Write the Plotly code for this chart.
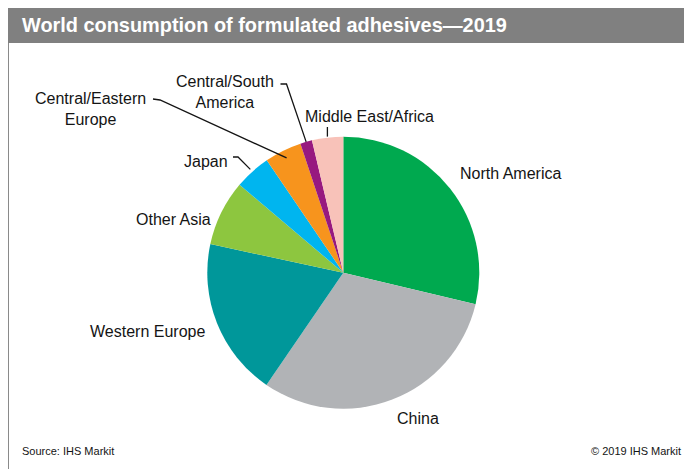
import math
import plotly.graph_objects as go

# ---- data ----
regions = ["North America", "China", "Western Europe", "Other Asia", "Japan",
           "Central/Eastern Europe", "Central/South America", "Middle East/Africa"]
shares = [28.7, 30.8, 18.8, 7.8, 4.3, 4.4, 1.4, 3.7]
colors = ["#00A94F", "#B1B3B6", "#00979A", "#8DC63F", "#00B5EF",
          "#F7941D", "#97197F", "#F8C2B9"]

title_text = "World consumption of formulated adhesives\u20142019"
source_text = "Source: IHS Markit"
copyright_text = "\u00a9 2019 IHS Markit"

# ---- geometry (pixels) ----
W, H = 684, 469
CX, CY, R = 343.3, 272.7, 136.0


def px(x):
    return x / W


def py(y):
    return 1 - y / H


fig = go.Figure()
fig.add_trace(go.Pie(
    labels=regions, values=shares, sort=False, direction="clockwise", rotation=0,
    marker=dict(colors=colors, line=dict(width=0)),
    textinfo="none", hoverinfo="label+percent",
    domain=dict(x=[px(CX - R), px(CX + R)], y=[py(CY + R), py(CY - R)]),
))

# mid angle of each slice (degrees clockwise from 12 o'clock), from the data
total = sum(shares)
mids = {}
acc = 0.0
for name, v in zip(regions, shares):
    a0 = acc / total * 360
    acc += v
    a1 = acc / total * 360
    mids[name] = (a0 + a1) / 2


def rim(name, r):
    a = math.radians(mids[name])
    return CX + r * math.sin(a), CY - r * math.cos(a)


font = "Liberation Sans, Arial, sans-serif"
annotations = []
shapes = []


def label(text, x, y, xanchor):
    annotations.append(dict(text=text, x=px(x), y=py(y), xref="paper", yref="paper",
                            xanchor=xanchor, yanchor="middle", showarrow=False,
                            align="center", font=dict(family=font, size=16, color="#141414")))


def leader(points):
    path = "M " + " L ".join(f"{px(x)},{py(y)}" for x, y in points)
    shapes.append(dict(type="path", path=path, xref="paper", yref="paper",
                       line=dict(color="#141414", width=1.3)))


label("North America", 458, 173, "left")
label("China", 418, 418, "center")
label("Western Europe", 207, 331, "right")
label("Other Asia", 213, 219, "right")
label("Japan", 229.5, 161, "right")
label("Central/Eastern<br>Europe", 90.5, 109, "center")
label("Central/South<br>America", 224.5, 92, "center")
label("Middle East/Africa", 369.5, 117, "center")

leader([(233, 157), (238, 157), rim("Japan", 139)])
leader([(153, 99), (160, 100), rim("Central/Eastern Europe", 128)])
leader([(280.5, 84), (286.5, 84), rim("Central/South America", 136)])
mx, my = rim("Middle East/Africa", 137)
leader([(mx, 127), (mx, my)])

# title bar and frame
shapes.append(dict(type="rect", xref="paper", yref="paper", x0=px(8), x1=px(W), y0=py(43), y1=py(8),
                   fillcolor="#808080", line=dict(width=0), layer="below"))
shapes.append(dict(type="line", xref="paper", yref="paper", x0=px(8.5), x1=px(8.5), y0=py(43), y1=py(H),
                   line=dict(color="#8a8a8a", width=1)))

annotations.append(dict(text="<b>" + title_text + "</b>", x=px(20), y=py(25.5), xref="paper", yref="paper",
                        xanchor="left", yanchor="middle", showarrow=False,
                        font=dict(family=font, size=19.9, color="white")))
annotations.append(dict(text=source_text, x=px(20), y=py(451), xref="paper", yref="paper",
                        xanchor="left", yanchor="middle", showarrow=False,
                        font=dict(family=font, size=11, color="#141414")))
annotations.append(dict(text=copyright_text, x=px(683), y=py(451), xref="paper", yref="paper",
                        xanchor="right", yanchor="middle", showarrow=False,
                        font=dict(family=font, size=11, color="#141414")))

fig.update_layout(width=W, height=H, margin=dict(l=0, r=0, t=0, b=0),
                  paper_bgcolor="white", plot_bgcolor="white", showlegend=False,
                  shapes=shapes, annotations=annotations)

fig.write_html("out.html", config={"displayModeBar": False},
               post_script="document.body.style.margin='0';document.body.style.overflow='hidden';")
